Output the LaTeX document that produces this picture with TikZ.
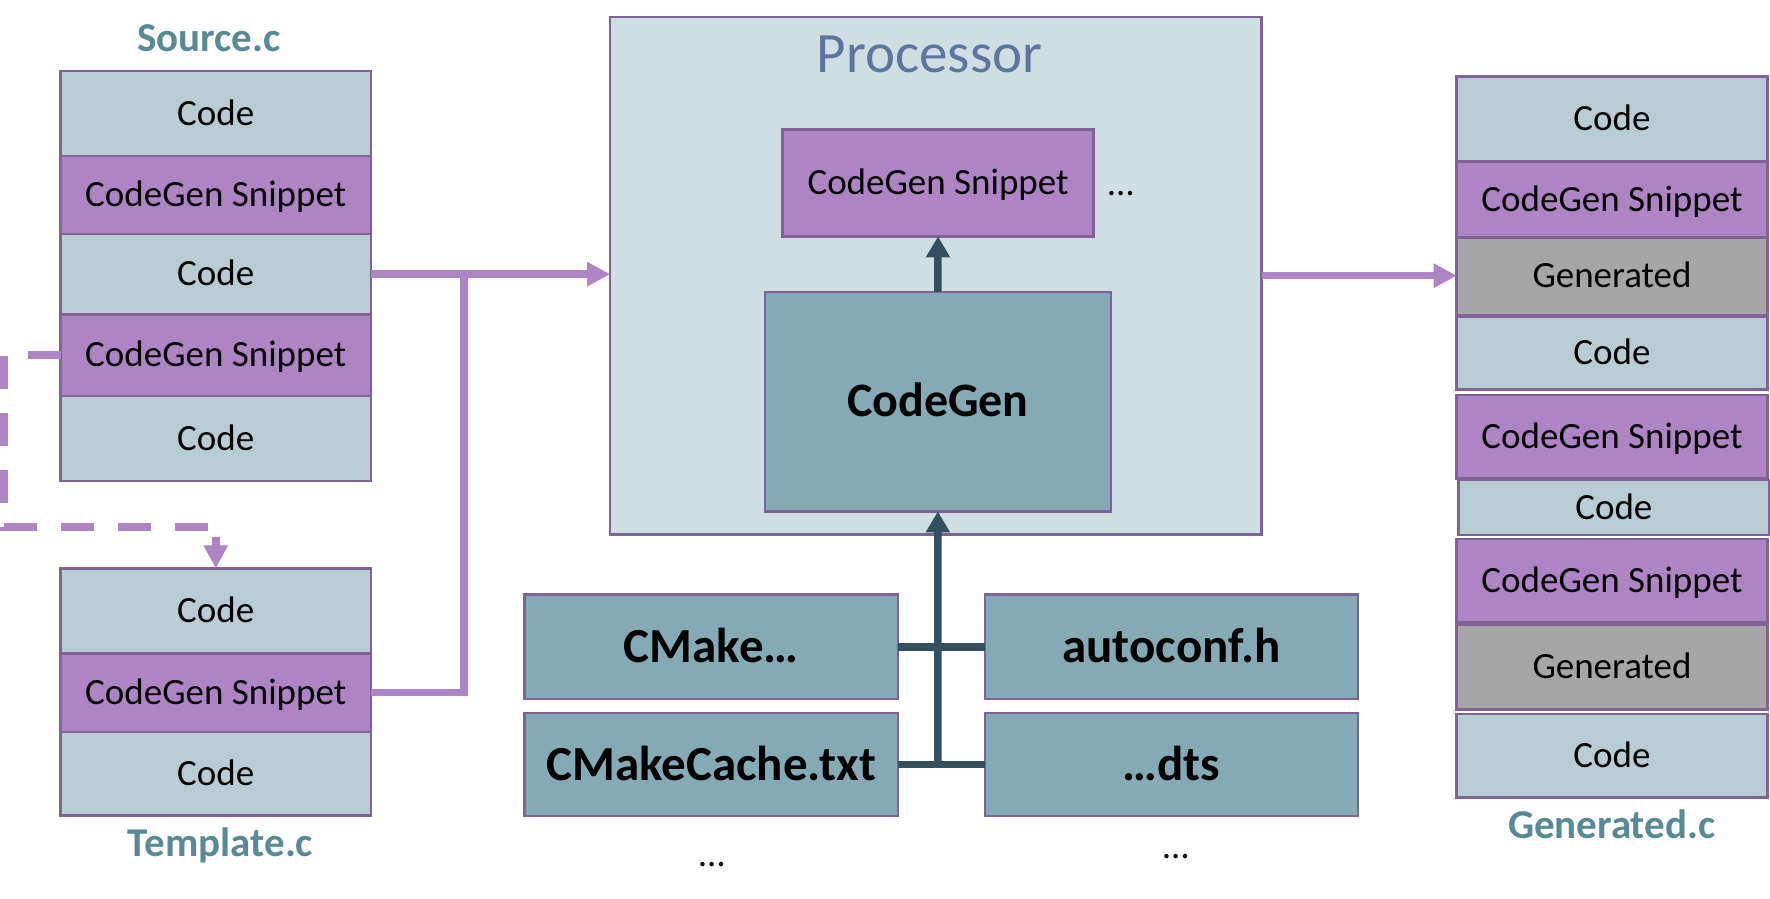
\documentclass[tikz,border=0pt]{standalone}
\usepackage{fontspec}
\setmainfont{Carlito}
\usetikzlibrary{arrows.meta}
\definecolor{codec}{RGB}{183,205,211}
\definecolor{snipc}{RGB}{174,132,197}
\definecolor{genc}{RGB}{166,166,166}
\definecolor{procc}{RGB}{207,222,227}
\definecolor{darkc}{RGB}{132,171,181}
\definecolor{bordc}{RGB}{128,98,150}
\definecolor{arrc}{RGB}{52,80,94}
\definecolor{labc}{RGB}{88,137,148}
\definecolor{proct}{RGB}{95,117,158}
\newcommand\blk[7]{\node[#2, anchor=north west, minimum width={#5pt-#3pt}, minimum height={#6pt-#4pt}] (#1) at (#3,#4) {#7};}
\tikzset{
 box/.style={draw=bordc, line width=2.5pt, inner sep=0pt, outer sep=0pt},
 reg/.style={font=\fontsize{37}{44}\selectfont, text height=23.5pt, text depth=0pt},
 codebox/.style={box, reg, fill=codec},
 snipbox/.style={box, reg, fill=snipc},
 genbox/.style={box, reg, fill=genc},
 darkbox/.style={box, fill=darkc, font=\bfseries\fontsize{49}{58}\selectfont, text height=31.5pt, text depth=0pt},
 filelab/.style={font=\bfseries\fontsize{41}{48}\selectfont, text=labc, anchor=base, inner sep=0pt},
 plaintxt/.style={font=\fontsize{37}{44}\selectfont, anchor=base, inner sep=0pt},
 pline/.style={draw=snipc, line width=7.5pt},
 parrow/.style={pline, -{Triangle[length=23pt, width=23pt]}},
 dashline/.style={draw=snipc, line width=7.5pt, dash pattern=on 33pt off 24pt},
 darrow/.style={draw=arrc, line width=7.5pt, -{Triangle[length=21pt, width=23pt]}},
 dline/.style={draw=arrc, line width=7.5pt},
}
\begin{document}
\begin{tikzpicture}[x=1pt, y=-1pt]
\fill[white] (0,0) rectangle (1770,899);
\useasboundingbox (0,0) rectangle (1770,899);

% Source.c
\node[filelab] (srclab) at (209,52) {Source.c};
\blk{srcC1}{codebox}{60.5}{71}{371}{156}{Code}
\blk{srcS1}{snipbox}{60.5}{156}{371}{234}{CodeGen Snippet}
\blk{srcC2}{codebox}{60.5}{234}{371}{314.3}{Code}
\blk{srcS2}{snipbox}{60.5}{314.3}{371}{396}{CodeGen Snippet}
\blk{srcC3}{codebox}{60.5}{396}{371}{481}{Code}

% Template.c
\blk{tplC1}{codebox}{60.5}{568.3}{371}{653.3}{Code}
\blk{tplS}{snipbox}{60.5}{653.3}{371}{732}{CodeGen Snippet}
\blk{tplC2}{codebox}{60.5}{732}{371}{815.7}{Code}
\node[filelab] (tpllab) at (220.5,856) {Template.c};

% Processor
\blk{proc}{box, fill=procc}{610.2}{16.8}{1261.6}{534.6}{}
\node[font=\fontsize{57}{66}\selectfont, text=proct, anchor=base, inner sep=0pt] (proclab) at (929.6,73) {Processor};
\blk{psnip}{snipbox}{782.7}{129.6}{1093.4}{236.4}{CodeGen Snippet}
\node[plaintxt] (pdots) at (1121,195.7) {…};
\blk{cg}{darkbox, font=\bfseries\fontsize{48}{56}\selectfont, text height=30.5pt}{764.8}{291.8}{1110.9}{511.4}{CodeGen}

% inputs
\blk{cmake}{darkbox}{524.7}{594.7}{897.8}{699}{CMake…}
\blk{cache}{darkbox}{524.7}{713}{897.8}{816}{CMakeCache.txt}
\blk{autoconf}{darkbox}{985}{594.7}{1358}{699}{autoconf.h}
\blk{dts}{darkbox}{985}{713}{1358}{816}{…dts}
\node[plaintxt] (ldots) at (712,866) {…};
\node[plaintxt] (rdots) at (1176,858) {…};

% Generated.c
\blk{g1}{codebox}{1456.7}{76.7}{1767.3}{161.7}{Code}
\blk{g2}{snipbox}{1456.7}{161.7}{1767.3}{237.3}{CodeGen Snippet}
\blk{g3}{genbox}{1456.7}{237.3}{1767.3}{315}{Generated}
\blk{g4}{codebox}{1456.7}{316.7}{1767.3}{389.3}{Code}
\blk{g5}{snipbox}{1456.7}{395}{1767.3}{478.3}{CodeGen Snippet}
\blk{g6}{codebox}{1458.7}{480}{1769}{535}{Code}
\blk{g7}{snipbox}{1456.7}{539}{1767.3}{622.7}{CodeGen Snippet}
\blk{g8}{genbox}{1456.7}{625}{1767.3}{709.3}{Generated}
\blk{g9}{codebox}{1456.7}{714}{1767.3}{797.7}{Code}
\node[filelab] (genlab) at (1611.7,838.3) {Generated.c};

% purple connectors
\coordinate (jn) at (464,274.2);
\draw[parrow] (srcC2.east) -- (srcC2.east -| proc.west);
\draw[pline] (tplS.east) -| (jn);
\draw[parrow] (proc.east) -- (proc.east -| g3.west);

% dashed connector
\coordinate (dcorner) at (215.75,527);
\coordinate (dstem) at (215.75,537);
\draw[dashline] (srcS2.west) -- ++(-56.5,0) |- (dcorner);
\draw[parrow] (dstem) -- (tplC1.north);

% dark connectors
\coordinate (trunk) at (937.85,767.3);
\draw[dline] (cmake.east) -- (autoconf.west);
\draw[dline] (cache.east) -- (dts.west);
\draw[darrow] (trunk) -- (cg.south);
\draw[darrow] (cg.north) -- (psnip.south);
\end{tikzpicture}
\end{document}
